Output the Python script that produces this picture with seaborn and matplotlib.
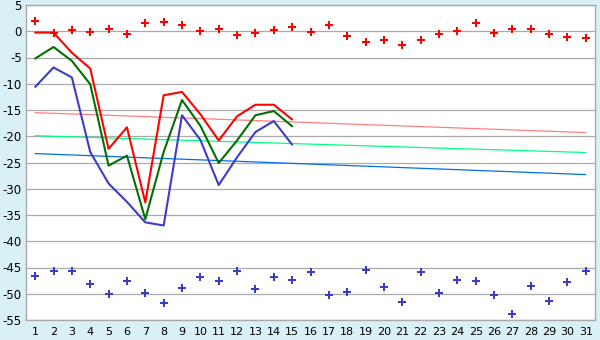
import matplotlib
matplotlib.use("Agg")
import matplotlib.pyplot as plt
import seaborn as sns
import pandas as pd
import numpy as np

days = list(range(1, 32))
days15 = list(range(1, 16))

red_line = [-0.25, -0.25, -4.1, -7.1, -22.4, -18.3, -32.6, -12.2, -11.55, -15.8, -20.8, -16.2, -14.0, -14.0, -16.8]
green_line = [-5.2, -3.0, -5.65, -10.1, -25.6, -23.7, -35.8, -23.0, -13.1, -18.0, -25.1, -20.8, -16.0, -15.2, -18.1]
blue_line = [-10.6, -6.9, -8.8, -23.0, -29.0, -32.5, -36.4, -37.0, -16.0, -20.7, -29.3, -24.0, -19.2, -17.1, -21.6]

red_dots = [1.96, -0.3, 0.32, -0.13, 0.5, -0.44, 1.6, 1.84, 1.27, 0.0, 0.5, -0.63, -0.25, 0.32, 0.89,
            -0.06, 1.27, -0.82, -1.97, -1.59, -2.54, -1.59, -0.44, 0.13, 1.65, -0.25, 0.5, 0.5, -0.44, -1.0, -1.2]
blue_dots = [-46.7, -45.67, -45.67, -48.2, -50.1, -47.6, -49.9, -51.8, -48.97, -46.9, -47.6, -45.7, -49.0, -46.9, -47.4,
             -45.9, -50.3, -49.7, -45.5, -48.8, -51.6, -45.9, -49.9, -47.4, -47.6, -50.3, -53.9, -48.6, -51.4, -47.8, -45.7]

trend_days = [1, 31]
trend_red = [-15.5, -19.3]
trend_green = [-19.9, -23.1]
trend_blue = [-23.3, -27.3]

y_ticks = list(range(-55, 10, 5))

sns.set_theme(style="white")
plt.rcParams['font.family'] = ['DejaVu Sans']
plt.rcParams['axes.unicode_minus'] = False

fig = plt.figure(figsize=(6, 3.4), dpi=100, facecolor="#D9F0F6")
ax = fig.add_axes([26/600, 1-320/340, (595-26)/600, (320-5)/340])
ax.set_facecolor("white")

for yt in y_ticks:
    ax.axhline(yt, color="#AAAAAA", lw=0.9, zorder=0)

sns.lineplot(x=trend_days, y=trend_red, color="#FF8080", lw=0.9, ax=ax)
sns.lineplot(x=trend_days, y=trend_green, color="#00FF80", lw=0.9, ax=ax)
sns.lineplot(x=trend_days, y=trend_blue, color="#0070E8", lw=0.9, ax=ax)

sns.lineplot(x=days15, y=blue_line, color="#3C3CC8", lw=1.5, ax=ax)
sns.lineplot(x=days15, y=green_line, color="#007000", lw=1.5, ax=ax)
sns.lineplot(x=days15, y=red_line, color="#FF0000", lw=1.5, ax=ax)

sns.scatterplot(x=days, y=red_dots, color="#FF0000", marker="P", s=26, linewidth=0, ax=ax)
sns.scatterplot(x=days, y=blue_dots, color="#3C3CC8", marker="P", s=26, linewidth=0, ax=ax)

ax.set_xlim(0.5, 31.5)
ax.set_ylim(-55, 5)
ax.set_xticks(days)
ax.set_xticklabels([str(d) for d in days])
ax.set_yticks(y_ticks)
ax.set_yticklabels([str(t) for t in y_ticks])
ax.tick_params(axis="x", direction="out", length=4, width=0.8, color="#555555", labelsize=8, pad=1, labelcolor="black")
ax.tick_params(axis="y", length=0, labelsize=8.5, pad=3, labelcolor="black")
for sp in ax.spines.values():
    sp.set_color("#AAAAAA")
    sp.set_linewidth(1.0)
ax.grid(False)

fig.savefig("out.png", dpi=100, facecolor=fig.get_facecolor())
